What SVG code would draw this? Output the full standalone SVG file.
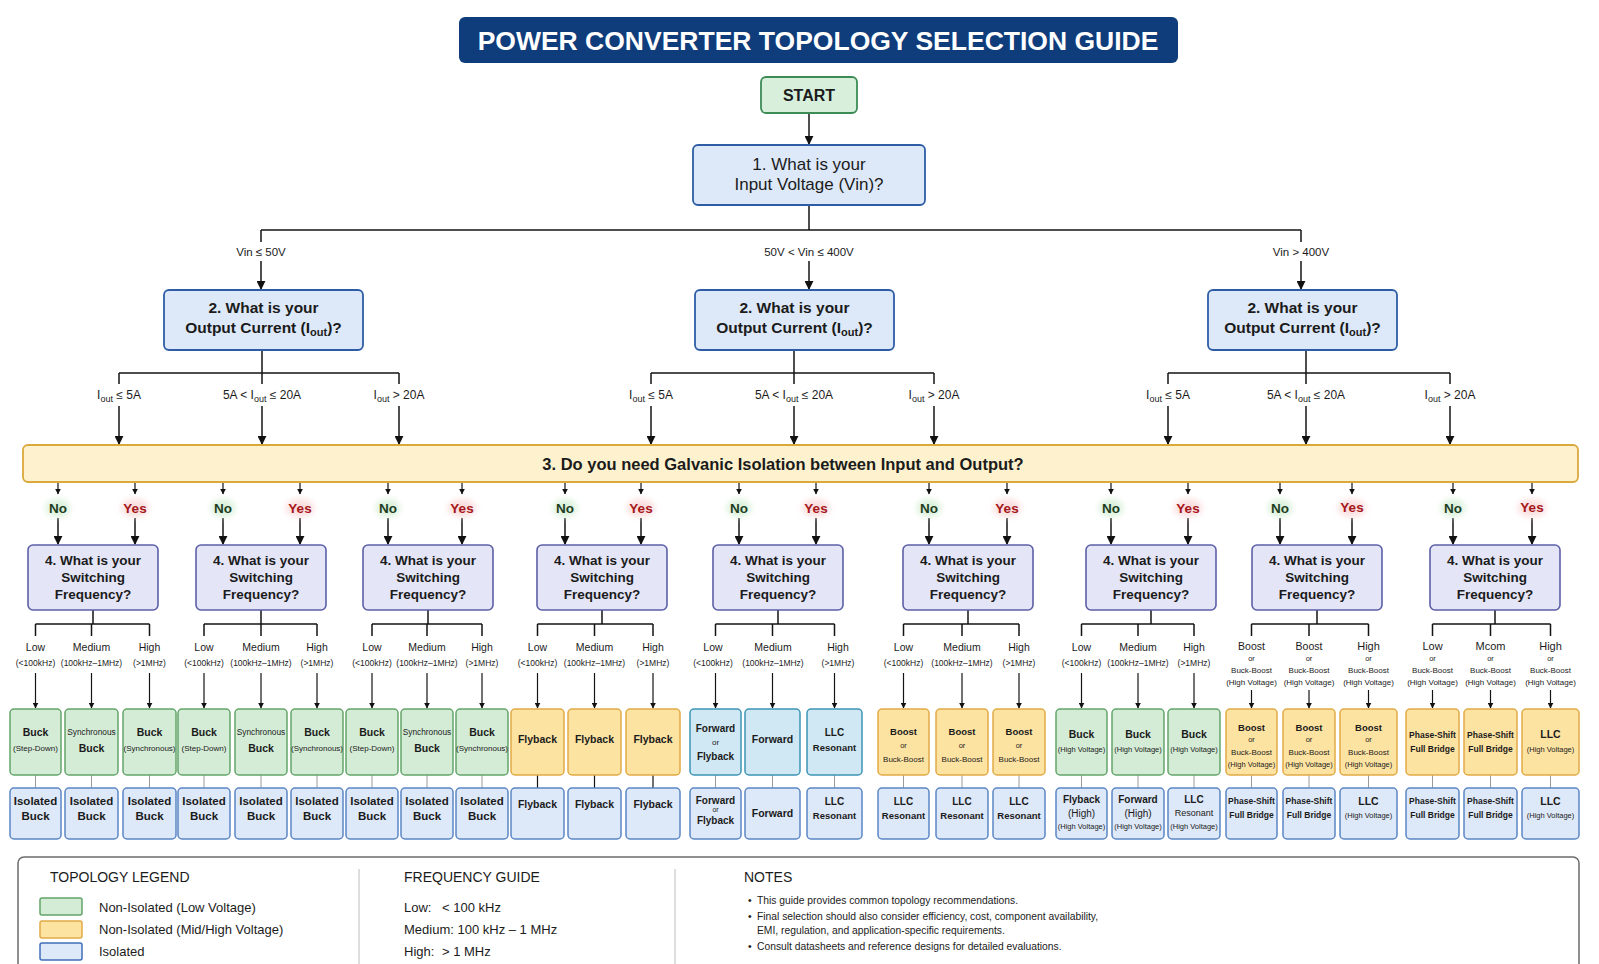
<svg xmlns="http://www.w3.org/2000/svg" width="1599" height="964" viewBox="0 0 1599 964">
<defs>
<style>
text{font-family:"Liberation Sans",Arial,Helvetica,sans-serif;fill:#1b1b1b;text-anchor:middle}
.b{font-weight:bold}
.ln{fill:none;stroke:#141414;stroke-width:1.5}
.a{marker-end:url(#ah)}
.as{marker-end:url(#ahs);stroke-width:1.2}
.gl{fill:none;stroke:#9a9a9a;stroke-width:1}
.green{fill:#d4ecd6;stroke:#63a56a;stroke-width:1.5}
.orange{fill:#fde3a2;stroke:#e2aa45;stroke-width:1.5}
.teal{fill:#d0e8f4;stroke:#3e94b5;stroke-width:1.5}
.iso{fill:#dde8f8;stroke:#5b86c5;stroke-width:1.5}
.q{fill:#dde9f9;stroke:#2e5da6;stroke-width:1.8}
.q4{fill:#e4e6f7;stroke:#5c5fa7;stroke-width:1.6}
.m{font-size:10.5px;font-weight:bold}
.s{font-size:8px}
.f1{font-size:10.5px}
.f2{font-size:8.5px}
.lg{font-size:13px;text-anchor:start}
.hd{font-size:14px;text-anchor:start}
.nt{font-size:10.3px;text-anchor:start}
.no{font-size:13.5px;font-weight:bold;fill:#1e3d1e}
.yes{font-size:13.5px;font-weight:bold;fill:#a5161b}
</style>
<marker id="ah" viewBox="0 0 10 10" refX="9" refY="5" markerWidth="6" markerHeight="6" orient="auto"><path d="M0,0 L10,5 L0,10 z" fill="#111"/></marker>
<marker id="ahs" viewBox="0 0 10 10" refX="9" refY="5" markerWidth="5" markerHeight="5" orient="auto"><path d="M0,0 L10,5 L0,10 z" fill="#111"/></marker>
<filter id="glow" x="-50%" y="-50%" width="200%" height="200%"><feGaussianBlur stdDeviation="3"/></filter>
</defs>
<rect x="0" y="0" width="1599" height="964" fill="#ffffff"/>

<g id="title">
<rect x="459" y="17" width="719" height="46" rx="6" fill="#0f3c7b"/>
<text x="818" y="49.5" class="b" style="font-size:26.5px;fill:#ffffff">POWER CONVERTER TOPOLOGY SELECTION GUIDE</text>
</g>

<g id="connectors" class="ln">
<path class="a" d="M809 113V144"/>
<path d="M809 205V230M261 230H1301M261 230V242M1301 230V242"/>
<path class="a" d="M261 261V289"/><path class="a" d="M809 261V289"/><path class="a" d="M1301 261V289"/>
<path d="M262 350V373M119 373H399M119 373V384M262 373V384M399 373V384"/>
<path d="M794 350V373M651 373H934M651 373V384M794 373V384M934 373V384"/>
<path d="M1306 350V373M1168 373H1450M1168 373V384M1306 373V384M1450 373V384"/>
<path class="a" d="M119 406V444"/><path class="a" d="M262 406V444"/><path class="a" d="M399 406V444"/>
<path class="a" d="M651 406V444"/><path class="a" d="M794 406V444"/><path class="a" d="M934 406V444"/>
<path class="a" d="M1168 406V444"/><path class="a" d="M1306 406V444"/><path class="a" d="M1450 406V444"/>
<path class="as" d="M58 482V494"/><path class="as" d="M135 482V494"/>
<path class="as" d="M223 482V494"/><path class="as" d="M300 482V494"/>
<path class="as" d="M388 482V494"/><path class="as" d="M462 482V494"/>
<path class="as" d="M565 482V494"/><path class="as" d="M641 482V494"/>
<path class="as" d="M739 482V494"/><path class="as" d="M816 482V494"/>
<path class="as" d="M929 482V494"/><path class="as" d="M1007 482V494"/>
<path class="as" d="M1111 482V494"/><path class="as" d="M1188 482V494"/>
<path class="as" d="M1280 482V494"/><path class="as" d="M1352 482V494"/>
<path class="as" d="M1453 482V494"/><path class="as" d="M1532 482V494"/>
<path class="a" d="M58 518V544"/><path class="a" d="M135 518V544"/>
<path class="a" d="M223 518V544"/><path class="a" d="M300 518V544"/>
<path class="a" d="M388 518V544"/><path class="a" d="M462 518V544"/>
<path class="a" d="M565 518V544"/><path class="a" d="M641 518V544"/>
<path class="a" d="M739 518V544"/><path class="a" d="M816 518V544"/>
<path class="a" d="M929 518V544"/><path class="a" d="M1007 518V544"/>
<path class="a" d="M1111 518V544"/><path class="a" d="M1188 518V544"/>
<path class="a" d="M1280 518V544"/><path class="a" d="M1352 518V544"/>
<path class="a" d="M1453 518V544"/><path class="a" d="M1532 518V544"/>
<path d="M93 610V624M35.5 624H149.5M35.5 624V636M91.5 624V636M149.5 624V636"/>
<path d="M261 610V624M204 624H317M204 624V636M261 624V636M317 624V636"/>
<path d="M428 610V624M372 624H482M372 624V636M427 624V636M482 624V636"/>
<path d="M602 610V624M537.5 624H653M537.5 624V636M594.5 624V636M653 624V636"/>
<path d="M778 610V624M715.5 624H834.5M715.5 624V636M772.5 624V636M834.5 624V636"/>
<path d="M968 610V624M903.5 624H1019M903.5 624V636M962 624V636M1019 624V636"/>
<path d="M1151 610V624M1081.5 624H1194M1081.5 624V636M1138 624V636M1194 624V636"/>
<path d="M1317 610V624M1251.5 624H1368.5M1251.5 624V636M1309 624V636M1368.5 624V636"/>
<path d="M1495 610V624M1432.5 624H1550.5M1432.5 624V636M1490.5 624V636M1550.5 624V636"/>
<g class="as">
<path d="M35.5 673V708"/><path d="M91.5 673V708"/><path d="M149.5 673V708"/>
<path d="M204 673V708"/><path d="M261 673V708"/><path d="M317 673V708"/>
<path d="M372 673V708"/><path d="M427 673V708"/><path d="M482 673V708"/>
<path d="M537.5 673V708"/><path d="M594.5 673V708"/><path d="M653 673V708"/>
<path d="M715.5 673V708"/><path d="M772.5 673V708"/><path d="M834.5 673V708"/>
<path d="M903.5 673V708"/><path d="M962 673V708"/><path d="M1019 673V708"/>
<path d="M1081.5 673V708"/><path d="M1138 673V708"/><path d="M1194 673V708"/>
<path d="M1251.5 690V708"/><path d="M1309 690V708"/><path d="M1368.5 690V708"/>
<path d="M1432.5 690V708"/><path d="M1490.5 690V708"/><path d="M1550.5 690V708"/>
</g>
<path class="gl" d="M35.5 775V788M91.5 775V788M149.5 775V788M204 775V788M261 775V788M317 775V788M372 775V788M427 775V788M482 775V788M715.5 775V788M772.5 775V788M834.5 775V788M903.5 775V788M962 775V788M1019 775V788M1081.5 775V788M1138 775V788M1194 775V788M1251.5 775V788M1309 775V788M1368.5 775V788M1432.5 775V788M1490.5 775V788M1550.5 775V788"/>
<path d="M537.5 775V788M594.5 775V788M653 775V788" style="stroke-width:1.2"/>
</g>

<g id="edge-labels">
<text x="261" y="256" style="font-size:11.5px">Vin ≤ 50V</text>
<text x="809" y="256" style="font-size:11.5px">50V &lt; Vin ≤ 400V</text>
<text x="1301" y="256" style="font-size:11.5px">Vin &gt; 400V</text>
<g style="font-size:12px">
<text x="119" y="399">I<tspan style="font-size:9px" dy="3">out</tspan><tspan dy="-3"> ≤ 5A</tspan></text>
<text x="262" y="399">5A &lt; I<tspan style="font-size:9px" dy="3">out</tspan><tspan dy="-3"> ≤ 20A</tspan></text>
<text x="399" y="399">I<tspan style="font-size:9px" dy="3">out</tspan><tspan dy="-3"> &gt; 20A</tspan></text>
<text x="651" y="399">I<tspan style="font-size:9px" dy="3">out</tspan><tspan dy="-3"> ≤ 5A</tspan></text>
<text x="794" y="399">5A &lt; I<tspan style="font-size:9px" dy="3">out</tspan><tspan dy="-3"> ≤ 20A</tspan></text>
<text x="934" y="399">I<tspan style="font-size:9px" dy="3">out</tspan><tspan dy="-3"> &gt; 20A</tspan></text>
<text x="1168" y="399">I<tspan style="font-size:9px" dy="3">out</tspan><tspan dy="-3"> ≤ 5A</tspan></text>
<text x="1306" y="399">5A &lt; I<tspan style="font-size:9px" dy="3">out</tspan><tspan dy="-3"> ≤ 20A</tspan></text>
<text x="1450" y="399">I<tspan style="font-size:9px" dy="3">out</tspan><tspan dy="-3"> &gt; 20A</tspan></text>
</g>
<g filter="url(#glow)" opacity="0.9">
<ellipse cx="58" cy="508" rx="12" ry="9" fill="#d6efd6"/><ellipse cx="135" cy="508" rx="14" ry="9" fill="#fadada"/>
<ellipse cx="223" cy="508" rx="12" ry="9" fill="#d6efd6"/><ellipse cx="300" cy="508" rx="14" ry="9" fill="#fadada"/>
<ellipse cx="388" cy="508" rx="12" ry="9" fill="#d6efd6"/><ellipse cx="462" cy="508" rx="14" ry="9" fill="#fadada"/>
<ellipse cx="565" cy="508" rx="12" ry="9" fill="#d6efd6"/><ellipse cx="641" cy="508" rx="14" ry="9" fill="#fadada"/>
<ellipse cx="739" cy="508" rx="12" ry="9" fill="#d6efd6"/><ellipse cx="816" cy="508" rx="14" ry="9" fill="#fadada"/>
<ellipse cx="929" cy="508" rx="12" ry="9" fill="#d6efd6"/><ellipse cx="1007" cy="508" rx="14" ry="9" fill="#fadada"/>
<ellipse cx="1111" cy="508" rx="12" ry="9" fill="#d6efd6"/><ellipse cx="1188" cy="508" rx="14" ry="9" fill="#fadada"/>
<ellipse cx="1280" cy="508" rx="12" ry="9" fill="#d6efd6"/><ellipse cx="1352" cy="508" rx="14" ry="9" fill="#fadada"/>
<ellipse cx="1453" cy="508" rx="12" ry="9" fill="#d6efd6"/><ellipse cx="1532" cy="508" rx="14" ry="9" fill="#fadada"/>
</g>
<text class="no" x="58" y="513">No</text><text class="yes" x="135" y="513">Yes</text>
<text class="no" x="223" y="513">No</text><text class="yes" x="300" y="513">Yes</text>
<text class="no" x="388" y="513">No</text><text class="yes" x="462" y="513">Yes</text>
<text class="no" x="565" y="513">No</text><text class="yes" x="641" y="513">Yes</text>
<text class="no" x="739" y="513">No</text><text class="yes" x="816" y="513">Yes</text>
<text class="no" x="929" y="513">No</text><text class="yes" x="1007" y="513">Yes</text>
<text class="no" x="1111" y="513">No</text><text class="yes" x="1188" y="513">Yes</text>
<text class="no" x="1280" y="513">No</text><text class="yes" x="1352" y="512">Yes</text>
<text class="no" x="1453" y="513">No</text><text class="yes" x="1532" y="512">Yes</text>

<g id="freq-labels">
<text class="f1" x="35.5" y="651">Low</text><text class="f2" x="35.5" y="666">(&lt;100kHz)</text>
<text class="f1" x="91.5" y="651">Medium</text><text class="f2" x="91.5" y="666">(100kHz–1MHz)</text>
<text class="f1" x="149.5" y="651">High</text><text class="f2" x="149.5" y="666">(&gt;1MHz)</text>
<text class="f1" x="204" y="651">Low</text><text class="f2" x="204" y="666">(&lt;100kHz)</text>
<text class="f1" x="261" y="651">Medium</text><text class="f2" x="261" y="666">(100kHz–1MHz)</text>
<text class="f1" x="317" y="651">High</text><text class="f2" x="317" y="666">(&gt;1MHz)</text>
<text class="f1" x="372" y="651">Low</text><text class="f2" x="372" y="666">(&lt;100kHz)</text>
<text class="f1" x="427" y="651">Medium</text><text class="f2" x="427" y="666">(100kHz–1MHz)</text>
<text class="f1" x="482" y="651">High</text><text class="f2" x="482" y="666">(&gt;1MHz)</text>
<text class="f1" x="537.5" y="651">Low</text><text class="f2" x="537.5" y="666">(&lt;100kHz)</text>
<text class="f1" x="594.5" y="651">Medium</text><text class="f2" x="594.5" y="666">(100kHz–1MHz)</text>
<text class="f1" x="653" y="651">High</text><text class="f2" x="653" y="666">(&gt;1MHz)</text>
<text class="f1" x="713" y="651">Low</text><text class="f2" x="713" y="666">(&lt;100kHz)</text>
<text class="f1" x="773" y="651">Medium</text><text class="f2" x="773" y="666">(100kHz–1MHz)</text>
<text class="f1" x="838" y="651">High</text><text class="f2" x="838" y="666">(&gt;1MHz)</text>
<text class="f1" x="903.5" y="651">Low</text><text class="f2" x="903.5" y="666">(&lt;100kHz)</text>
<text class="f1" x="962" y="651">Medium</text><text class="f2" x="962" y="666">(100kHz–1MHz)</text>
<text class="f1" x="1019" y="651">High</text><text class="f2" x="1019" y="666">(&gt;1MHz)</text>
<text class="f1" x="1081.5" y="651">Low</text><text class="f2" x="1081.5" y="666">(&lt;100kHz)</text>
<text class="f1" x="1138" y="651">Medium</text><text class="f2" x="1138" y="666">(100kHz–1MHz)</text>
<text class="f1" x="1194" y="651">High</text><text class="f2" x="1194" y="666">(&gt;1MHz)</text>
<text class="f1" x="1251.5" y="650">Boost</text><text style="font-size:7.5px" x="1251.5" y="661">or</text><text style="font-size:8px" x="1251.5" y="673">Buck-Boost</text><text style="font-size:8px" x="1251.5" y="685">(High Voltage)</text>
<text class="f1" x="1309" y="650">Boost</text><text style="font-size:7.5px" x="1309" y="661">or</text><text style="font-size:8px" x="1309" y="673">Buck-Boost</text><text style="font-size:8px" x="1309" y="685">(High Voltage)</text>
<text style="font-size:11px" x="1368.5" y="650">High</text><text style="font-size:7.5px" x="1368.5" y="661">or</text><text style="font-size:8px" x="1368.5" y="673">Buck-Boost</text><text style="font-size:8px" x="1368.5" y="685">(High Voltage)</text>
<text style="font-size:11px" x="1432.5" y="650">Low</text><text style="font-size:7.5px" x="1432.5" y="661">or</text><text style="font-size:8px" x="1432.5" y="673">Buck-Boost</text><text style="font-size:8px" x="1432.5" y="685">(High Voltage)</text>
<text style="font-size:11px" x="1490.5" y="650">Mcom</text><text style="font-size:7.5px" x="1490.5" y="661">or</text><text style="font-size:8px" x="1490.5" y="673">Buck-Boost</text><text style="font-size:8px" x="1490.5" y="685">(High Voltage)</text>
<text style="font-size:11px" x="1550.5" y="650">High</text><text style="font-size:7.5px" x="1550.5" y="661">or</text><text style="font-size:8px" x="1550.5" y="673">Buck-Boost</text><text style="font-size:8px" x="1550.5" y="685">(High Voltage)</text>
</g>
</g>

<g id="start">
<rect x="761" y="77" width="96" height="36" rx="5" fill="#d8efdc" stroke="#3c8c55" stroke-width="1.8"/>
<text x="809" y="101" class="b" style="font-size:16px">START</text>
</g>

<g id="q1">
<rect class="q" x="693" y="145" width="232" height="60" rx="5"/>
<text x="809" y="170" style="font-size:17px">1. What is your</text>
<text x="809" y="190" style="font-size:17px">Input Voltage (Vin)?</text>
</g>

<g id="q2-low">
<rect class="q" x="164" y="290" width="199" height="60" rx="5"/>
<text x="263.5" y="313" class="b" style="font-size:15.5px">2. What is your</text>
<text x="263.5" y="333" class="b" style="font-size:15.5px">Output Current (I<tspan style="font-size:11px" dy="3">out</tspan><tspan dy="-3">)?</tspan></text>
</g>
<g id="q2-mid">
<rect class="q" x="695" y="290" width="199" height="60" rx="5"/>
<text x="794.5" y="313" class="b" style="font-size:15.5px">2. What is your</text>
<text x="794.5" y="333" class="b" style="font-size:15.5px">Output Current (I<tspan style="font-size:11px" dy="3">out</tspan><tspan dy="-3">)?</tspan></text>
</g>
<g id="q2-high">
<rect class="q" x="1208" y="290" width="189" height="60" rx="5"/>
<text x="1302.5" y="313" class="b" style="font-size:15.5px">2. What is your</text>
<text x="1302.5" y="333" class="b" style="font-size:15.5px">Output Current (I<tspan style="font-size:11px" dy="3">out</tspan><tspan dy="-3">)?</tspan></text>
</g>

<g id="q3">
<rect x="23" y="445" width="1555" height="37" rx="5" fill="#fdf2cd" stroke="#dba83c" stroke-width="1.8"/>
<text x="783" y="470" class="b" style="font-size:16.5px">3. Do you need Galvanic Isolation between Input and Output?</text>
</g>

<g id="q4-1"><rect class="q4" x="28" y="545" width="130" height="65" rx="5"/><text x="93" y="565" class="b" style="font-size:13.5px">4. What is your</text><text x="93" y="582" class="b" style="font-size:13.5px">Switching</text><text x="93" y="599" class="b" style="font-size:13.5px">Frequency?</text></g>
<g id="q4-2"><rect class="q4" x="196" y="545" width="130" height="65" rx="5"/><text x="261" y="565" class="b" style="font-size:13.5px">4. What is your</text><text x="261" y="582" class="b" style="font-size:13.5px">Switching</text><text x="261" y="599" class="b" style="font-size:13.5px">Frequency?</text></g>
<g id="q4-3"><rect class="q4" x="363" y="545" width="130" height="65" rx="5"/><text x="428" y="565" class="b" style="font-size:13.5px">4. What is your</text><text x="428" y="582" class="b" style="font-size:13.5px">Switching</text><text x="428" y="599" class="b" style="font-size:13.5px">Frequency?</text></g>
<g id="q4-4"><rect class="q4" x="537" y="545" width="130" height="65" rx="5"/><text x="602" y="565" class="b" style="font-size:13.5px">4. What is your</text><text x="602" y="582" class="b" style="font-size:13.5px">Switching</text><text x="602" y="599" class="b" style="font-size:13.5px">Frequency?</text></g>
<g id="q4-5"><rect class="q4" x="713" y="545" width="130" height="65" rx="5"/><text x="778" y="565" class="b" style="font-size:13.5px">4. What is your</text><text x="778" y="582" class="b" style="font-size:13.5px">Switching</text><text x="778" y="599" class="b" style="font-size:13.5px">Frequency?</text></g>
<g id="q4-6"><rect class="q4" x="903" y="545" width="130" height="65" rx="5"/><text x="968" y="565" class="b" style="font-size:13.5px">4. What is your</text><text x="968" y="582" class="b" style="font-size:13.5px">Switching</text><text x="968" y="599" class="b" style="font-size:13.5px">Frequency?</text></g>
<g id="q4-7"><rect class="q4" x="1086" y="545" width="130" height="65" rx="5"/><text x="1151" y="565" class="b" style="font-size:13.5px">4. What is your</text><text x="1151" y="582" class="b" style="font-size:13.5px">Switching</text><text x="1151" y="599" class="b" style="font-size:13.5px">Frequency?</text></g>
<g id="q4-8"><rect class="q4" x="1252" y="545" width="130" height="65" rx="5"/><text x="1317" y="565" class="b" style="font-size:13.5px">4. What is your</text><text x="1317" y="582" class="b" style="font-size:13.5px">Switching</text><text x="1317" y="599" class="b" style="font-size:13.5px">Frequency?</text></g>
<g id="q4-9"><rect class="q4" x="1430" y="545" width="130" height="65" rx="5"/><text x="1495" y="565" class="b" style="font-size:13.5px">4. What is your</text><text x="1495" y="582" class="b" style="font-size:13.5px">Switching</text><text x="1495" y="599" class="b" style="font-size:13.5px">Frequency?</text></g>

<g id="r1-1"><rect class="green" x="10" y="709" width="51" height="66" rx="4"/><text class="m" x="35.5" y="736">Buck</text><text class="s" x="35.5" y="751">(Step-Down)</text></g>
<g id="r1-2"><rect class="green" x="65" y="709" width="53" height="66" rx="4"/><text style="font-size:8.3px" x="91.5" y="735">Synchronous</text><text class="m" x="91.5" y="752">Buck</text></g>
<g id="r1-3"><rect class="green" x="123" y="709" width="53" height="66" rx="4"/><text class="m" x="149.5" y="736">Buck</text><text class="s" x="149.5" y="751">(Synchronous)</text></g>
<g id="r1-4"><rect class="green" x="178" y="709" width="52" height="66" rx="4"/><text class="m" x="204" y="736">Buck</text><text class="s" x="204" y="751">(Step-Down)</text></g>
<g id="r1-5"><rect class="green" x="235" y="709" width="52" height="66" rx="4"/><text style="font-size:8.3px" x="261" y="735">Synchronous</text><text class="m" x="261" y="752">Buck</text></g>
<g id="r1-6"><rect class="green" x="291" y="709" width="52" height="66" rx="4"/><text class="m" x="317" y="736">Buck</text><text class="s" x="317" y="751">(Synchronous)</text></g>
<g id="r1-7"><rect class="green" x="346" y="709" width="52" height="66" rx="4"/><text class="m" x="372" y="736">Buck</text><text class="s" x="372" y="751">(Step-Down)</text></g>
<g id="r1-8"><rect class="green" x="401" y="709" width="52" height="66" rx="4"/><text style="font-size:8.3px" x="427" y="735">Synchronous</text><text class="m" x="427" y="752">Buck</text></g>
<g id="r1-9"><rect class="green" x="456" y="709" width="52" height="66" rx="4"/><text class="m" x="482" y="736">Buck</text><text class="s" x="482" y="751">(Synchronous)</text></g>
<g id="r1-10"><rect class="orange" x="511" y="709" width="53" height="66" rx="4"/><text class="m" x="537.5" y="743">Flyback</text></g>
<g id="r1-11"><rect class="orange" x="568" y="709" width="53" height="66" rx="4"/><text class="m" x="594.5" y="743">Flyback</text></g>
<g id="r1-12"><rect class="orange" x="626" y="709" width="54" height="66" rx="4"/><text class="m" x="653" y="743">Flyback</text></g>
<g id="r1-13"><rect class="teal" x="690" y="709" width="51" height="66" rx="4"/><text class="b" style="font-size:10px" x="715.5" y="731.5">Forward</text><text style="font-size:8px" x="715.5" y="745">or</text><text class="b" style="font-size:10px" x="715.5" y="760">Flyback</text></g>
<g id="r1-14"><rect class="teal" x="745" y="709" width="55" height="66" rx="4"/><text class="m" x="772.5" y="743">Forward</text></g>
<g id="r1-15"><rect class="teal" x="807" y="709" width="55" height="66" rx="4"/><text class="b" style="font-size:10px" x="834.5" y="736">LLC</text><text class="b" style="font-size:9.5px" x="834.5" y="751">Resonant</text></g>
<g id="r1-16"><rect class="orange" x="878" y="709" width="51" height="66" rx="4"/><text class="b" style="font-size:9.5px" x="903.5" y="735">Boost</text><text style="font-size:7.5px" x="903.5" y="748">or</text><text class="s" x="903.5" y="762">Buck-Boost</text></g>
<g id="r1-17"><rect class="orange" x="936" y="709" width="52" height="66" rx="4"/><text class="b" style="font-size:9.5px" x="962" y="735">Boost</text><text style="font-size:7.5px" x="962" y="748">or</text><text class="s" x="962" y="762">Buck-Boost</text></g>
<g id="r1-18"><rect class="orange" x="993" y="709" width="52" height="66" rx="4"/><text class="b" style="font-size:9.5px" x="1019" y="735">Boost</text><text style="font-size:7.5px" x="1019" y="748">or</text><text class="s" x="1019" y="762">Buck-Boost</text></g>
<g id="r1-19"><rect class="green" x="1056" y="709" width="51" height="66" rx="4"/><text class="m" x="1081.5" y="738">Buck</text><text style="font-size:7.5px" x="1081.5" y="752">(High Voltage)</text></g>
<g id="r1-20"><rect class="green" x="1112" y="709" width="52" height="66" rx="4"/><text class="m" x="1138" y="738">Buck</text><text style="font-size:7.5px" x="1138" y="752">(High Voltage)</text></g>
<g id="r1-21"><rect class="green" x="1168" y="709" width="52" height="66" rx="4"/><text class="m" x="1194" y="738">Buck</text><text style="font-size:7.5px" x="1194" y="752">(High Voltage)</text></g>
<g id="r1-22"><rect class="orange" x="1226" y="709" width="51" height="66" rx="4"/><text class="b" style="font-size:9.5px" x="1251.5" y="731">Boost</text><text style="font-size:7.5px" x="1251.5" y="742">or</text><text class="s" x="1251.5" y="755">Buck-Boost</text><text style="font-size:7.5px" x="1251.5" y="767">(High Voltage)</text></g>
<g id="r1-23"><rect class="orange" x="1283" y="709" width="52" height="66" rx="4"/><text class="b" style="font-size:9.5px" x="1309" y="731">Boost</text><text style="font-size:7.5px" x="1309" y="742">or</text><text class="s" x="1309" y="755">Buck-Boost</text><text style="font-size:7.5px" x="1309" y="767">(High Voltage)</text></g>
<g id="r1-24"><rect class="orange" x="1340" y="709" width="57" height="66" rx="4"/><text class="b" style="font-size:9.5px" x="1368.5" y="731">Boost</text><text style="font-size:7.5px" x="1368.5" y="742">or</text><text class="s" x="1368.5" y="755">Buck-Boost</text><text style="font-size:7.5px" x="1368.5" y="767">(High Voltage)</text></g>
<g id="r1-25"><rect class="orange" x="1406" y="709" width="53" height="66" rx="4"/><text class="b" style="font-size:8.5px" x="1432.5" y="738">Phase-Shift</text><text class="b" style="font-size:8.5px" x="1432.5" y="752">Full Bridge</text></g>
<g id="r1-26"><rect class="orange" x="1464" y="709" width="53" height="66" rx="4"/><text class="b" style="font-size:8.5px" x="1490.5" y="738">Phase-Shift</text><text class="b" style="font-size:8.5px" x="1490.5" y="752">Full Bridge</text></g>
<g id="r1-27"><rect class="orange" x="1522" y="709" width="57" height="66" rx="4"/><text class="m" x="1550.5" y="738">LLC</text><text style="font-size:7.5px" x="1550.5" y="752">(High Voltage)</text></g>

<g id="r2-1"><rect class="iso" x="10" y="788" width="51" height="51" rx="4"/><text class="b" style="font-size:11.5px" x="35.5" y="805">Isolated</text><text class="b" style="font-size:11.5px" x="35.5" y="820">Buck</text></g>
<g id="r2-2"><rect class="iso" x="65" y="788" width="53" height="51" rx="4"/><text class="b" style="font-size:11.5px" x="91.5" y="805">Isolated</text><text class="b" style="font-size:11.5px" x="91.5" y="820">Buck</text></g>
<g id="r2-3"><rect class="iso" x="123" y="788" width="53" height="51" rx="4"/><text class="b" style="font-size:11.5px" x="149.5" y="805">Isolated</text><text class="b" style="font-size:11.5px" x="149.5" y="820">Buck</text></g>
<g id="r2-4"><rect class="iso" x="178" y="788" width="52" height="51" rx="4"/><text class="b" style="font-size:11.5px" x="204" y="805">Isolated</text><text class="b" style="font-size:11.5px" x="204" y="820">Buck</text></g>
<g id="r2-5"><rect class="iso" x="235" y="788" width="52" height="51" rx="4"/><text class="b" style="font-size:11.5px" x="261" y="805">Isolated</text><text class="b" style="font-size:11.5px" x="261" y="820">Buck</text></g>
<g id="r2-6"><rect class="iso" x="291" y="788" width="52" height="51" rx="4"/><text class="b" style="font-size:11.5px" x="317" y="805">Isolated</text><text class="b" style="font-size:11.5px" x="317" y="820">Buck</text></g>
<g id="r2-7"><rect class="iso" x="346" y="788" width="52" height="51" rx="4"/><text class="b" style="font-size:11.5px" x="372" y="805">Isolated</text><text class="b" style="font-size:11.5px" x="372" y="820">Buck</text></g>
<g id="r2-8"><rect class="iso" x="401" y="788" width="52" height="51" rx="4"/><text class="b" style="font-size:11.5px" x="427" y="805">Isolated</text><text class="b" style="font-size:11.5px" x="427" y="820">Buck</text></g>
<g id="r2-9"><rect class="iso" x="456" y="788" width="52" height="51" rx="4"/><text class="b" style="font-size:11.5px" x="482" y="805">Isolated</text><text class="b" style="font-size:11.5px" x="482" y="820">Buck</text></g>
<g id="r2-10"><rect class="iso" x="511" y="788" width="53" height="51" rx="4"/><text class="m" x="537.5" y="808">Flyback</text></g>
<g id="r2-11"><rect class="iso" x="568" y="788" width="53" height="51" rx="4"/><text class="m" x="594.5" y="808">Flyback</text></g>
<g id="r2-12"><rect class="iso" x="626" y="788" width="54" height="51" rx="4"/><text class="m" x="653" y="808">Flyback</text></g>
<g id="r2-13"><rect class="iso" x="690" y="788" width="51" height="51" rx="4"/><text class="b" style="font-size:10px" x="715.5" y="804">Forward</text><text style="font-size:7px" x="715.5" y="812">or</text><text class="b" style="font-size:10px" x="715.5" y="824">Flyback</text></g>
<g id="r2-14"><rect class="iso" x="745" y="788" width="55" height="51" rx="4"/><text class="m" x="772.5" y="817">Forward</text></g>
<g id="r2-15"><rect class="iso" x="807" y="788" width="55" height="51" rx="4"/><text class="b" style="font-size:10px" x="834.5" y="805">LLC</text><text class="b" style="font-size:9.5px" x="834.5" y="819">Resonant</text></g>
<g id="r2-16"><rect class="iso" x="878" y="788" width="51" height="51" rx="4"/><text class="b" style="font-size:10px" x="903.5" y="805">LLC</text><text class="b" style="font-size:9.5px" x="903.5" y="819">Resonant</text></g>
<g id="r2-17"><rect class="iso" x="936" y="788" width="52" height="51" rx="4"/><text class="b" style="font-size:10px" x="962" y="805">LLC</text><text class="b" style="font-size:9.5px" x="962" y="819">Resonant</text></g>
<g id="r2-18"><rect class="iso" x="993" y="788" width="52" height="51" rx="4"/><text class="b" style="font-size:10px" x="1019" y="805">LLC</text><text class="b" style="font-size:9.5px" x="1019" y="819">Resonant</text></g>
<g id="r2-19"><rect class="iso" x="1056" y="788" width="51" height="51" rx="4"/><text class="b" style="font-size:10px" x="1081.5" y="803">Flyback</text><text style="font-size:10px" x="1081.5" y="817">(High)</text><text style="font-size:7.5px" x="1081.5" y="829">(High Voltage)</text></g>
<g id="r2-20"><rect class="iso" x="1112" y="788" width="52" height="51" rx="4"/><text class="b" style="font-size:10px" x="1138" y="803">Forward</text><text style="font-size:10px" x="1138" y="817">(High)</text><text style="font-size:7.5px" x="1138" y="829">(High Voltage)</text></g>
<g id="r2-21"><rect class="iso" x="1168" y="788" width="52" height="51" rx="4"/><text class="b" style="font-size:10px" x="1194" y="803">LLC</text><text style="font-size:9px" x="1194" y="816">Resonant</text><text style="font-size:7.5px" x="1194" y="829">(High Voltage)</text></g>
<g id="r2-22"><rect class="iso" x="1226" y="788" width="51" height="51" rx="4"/><text class="b" style="font-size:8.5px" x="1251.5" y="804">Phase-Shift</text><text class="b" style="font-size:8.5px" x="1251.5" y="818">Full Bridge</text></g>
<g id="r2-23"><rect class="iso" x="1283" y="788" width="52" height="51" rx="4"/><text class="b" style="font-size:8.5px" x="1309" y="804">Phase-Shift</text><text class="b" style="font-size:8.5px" x="1309" y="818">Full Bridge</text></g>
<g id="r2-24"><rect class="iso" x="1340" y="788" width="57" height="51" rx="4"/><text class="m" x="1368.5" y="805">LLC</text><text style="font-size:7.5px" x="1368.5" y="818">(High Voltage)</text></g>
<g id="r2-25"><rect class="iso" x="1406" y="788" width="53" height="51" rx="4"/><text class="b" style="font-size:8.5px" x="1432.5" y="804">Phase-Shift</text><text class="b" style="font-size:8.5px" x="1432.5" y="818">Full Bridge</text></g>
<g id="r2-26"><rect class="iso" x="1464" y="788" width="53" height="51" rx="4"/><text class="b" style="font-size:8.5px" x="1490.5" y="804">Phase-Shift</text><text class="b" style="font-size:8.5px" x="1490.5" y="818">Full Bridge</text></g>
<g id="r2-27"><rect class="iso" x="1522" y="788" width="57" height="51" rx="4"/><text class="m" x="1550.5" y="805">LLC</text><text style="font-size:7.5px" x="1550.5" y="818">(High Voltage)</text></g>

<g id="legend">
<rect x="18" y="857" width="1561" height="120" rx="6" fill="#ffffff" stroke="#6b6b6b" stroke-width="1.5"/>
<path d="M359 869V964M675 869V964" stroke="#c8c8c8" stroke-width="1.2"/>
<text class="hd" x="50" y="882">TOPOLOGY LEGEND</text>
<rect x="40" y="898" width="42" height="17" rx="2" fill="#d4ecd6" stroke="#63a56a" stroke-width="1.5"/>
<rect x="40" y="921" width="42" height="17" rx="2" fill="#fde3a2" stroke="#e2aa45" stroke-width="1.5"/>
<rect x="40" y="943" width="42" height="17" rx="2" fill="#dde8f8" stroke="#3f6fb8" stroke-width="1.5"/>
<text class="lg" x="99" y="912">Non-Isolated (Low Voltage)</text>
<text class="lg" x="99" y="934">Non-Isolated (Mid/High Voltage)</text>
<text class="lg" x="99" y="956">Isolated</text>
<text class="hd" x="404" y="882">FREQUENCY GUIDE</text>
<text class="lg" x="404" y="912">Low:</text><text class="lg" x="442" y="912">&lt; 100 kHz</text>
<text class="lg" x="404" y="934">Medium:  100 kHz – 1 MHz</text>
<text class="lg" x="404" y="956">High:</text><text class="lg" x="442" y="956">&gt; 1 MHz</text>
<text class="hd" x="744" y="882">NOTES</text>
<text class="nt" x="748" y="904">•</text><text class="nt" x="757" y="904">This guide provides common topology recommendations.</text>
<text class="nt" x="748" y="920">•</text><text class="nt" x="757" y="920">Final selection should also consider efficiency, cost, component availability,</text>
<text class="nt" x="757" y="934">EMI, regulation, and application-specific requirements.</text>
<text class="nt" x="748" y="950">•</text><text class="nt" x="757" y="950">Consult datasheets and reference designs for detailed evaluations.</text>
</g>
</svg>
